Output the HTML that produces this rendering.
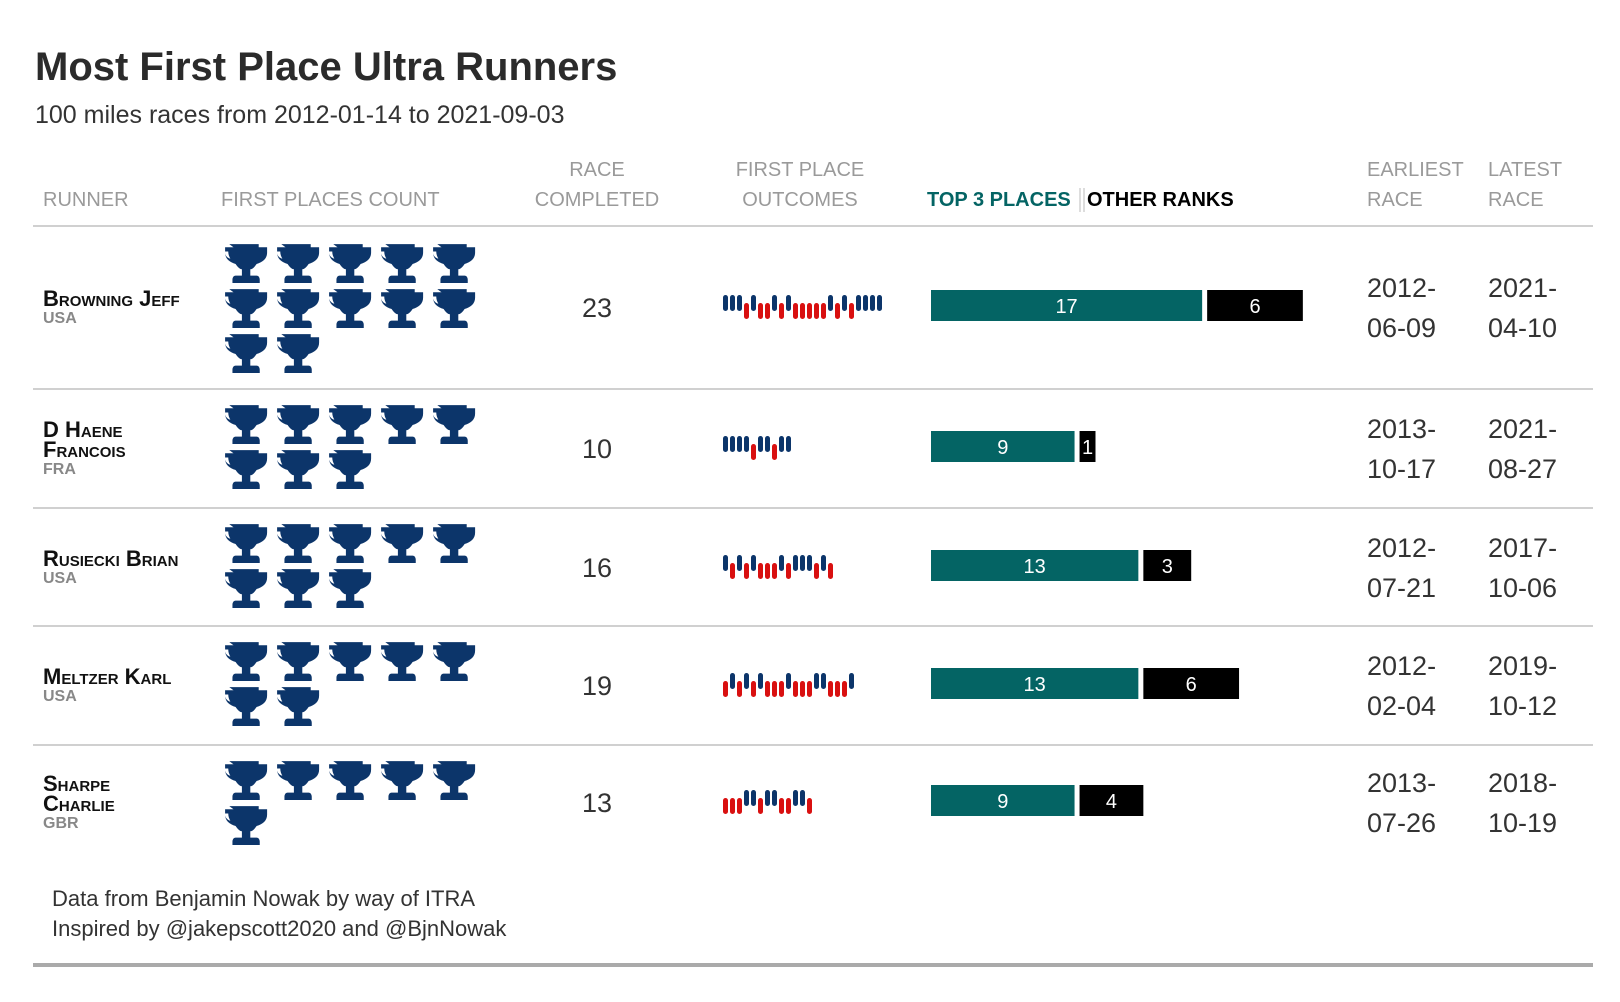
<!DOCTYPE html>
<html><head><meta charset="utf-8">
<style>
body{margin:0;background:#fff;width:1620px;height:1002px;overflow:hidden;font-family:"Liberation Sans",sans-serif;}
svg{display:block}
</style></head>
<body>
<svg id="chart" width="1620" height="1002">
<text x="35" y="80" font-size="40" font-weight="bold" fill="#2b2b2b">Most First Place Ultra Runners</text>
<text x="35" y="123" font-size="25" fill="#333">100 miles races from 2012-01-14 to 2021-09-03</text>
<g font-size="20" fill="#9a9a9a">
<text x="43" y="206">RUNNER</text>
<text x="221" y="206">FIRST PLACES COUNT</text>
<text x="597" y="176" text-anchor="middle">RACE</text>
<text x="597" y="206" text-anchor="middle">COMPLETED</text>
<text x="800" y="176" text-anchor="middle">FIRST PLACE</text>
<text x="800" y="206" text-anchor="middle">OUTCOMES</text>
<text x="927" y="206" font-weight="bold" fill="#046464">TOP 3 PLACES</text>
<line x1="1080" y1="188" x2="1080" y2="212" stroke="#bbb" stroke-width="1"/>
<line x1="1084" y1="188" x2="1084" y2="212" stroke="#bbb" stroke-width="1"/>
<text x="1087" y="206" font-weight="bold" fill="#000">OTHER RANKS</text>
<text x="1367" y="176">EARLIEST</text>
<text x="1367" y="206">RACE</text>
<text x="1488" y="176">LATEST</text>
<text x="1488" y="206">RACE</text>
</g>
<line x1="33" y1="226" x2="1593" y2="226" stroke="#d0d0d0" stroke-width="2"/>
<line x1="33" y1="965" x2="1593" y2="965" stroke="#aaa" stroke-width="4"/>
<text x="52" y="906" font-size="22" fill="#333">Data from Benjamin Nowak by way of ITRA</text>
<text x="52" y="936" font-size="22" fill="#333">Inspired by @jakepscott2020 and @BjnNowak</text>
<g id="rows"></g>
</svg>
<script>
const names=[["Browning Jeff"],["D Haene","Francois"],["Rusiecki Brian"],["Meltzer Karl"],["Sharpe","Charlie"]];
const countries=["USA","FRA","USA","USA","GBR"];
const wins=[12,8,8,7,6];
const races=[23,10,16,19,13];
const top3=[17,9,13,13,9];
const others=[6,1,3,6,4];
const earliest=["2012-06-09","2013-10-17","2012-07-21","2012-02-04","2013-07-26"];
const latest=["2021-04-10","2021-08-27","2017-10-06","2019-10-12","2018-10-19"];
const outcomes=[
"11101001010000010101111",
"1111011011",
"1010100010111010",
"0101010001000110001",
"0001101100110"];
const rowBot=[389,508,626,745,850];
const NS="http://www.w3.org/2000/svg";
const g=document.getElementById('rows');
const unit=15.95, barX=931;
function el(t,a,p){const e=document.createElementNS(NS,t);for(const k in a)e.setAttribute(k,a[k]);(p||g).appendChild(e);return e;}
function txt(x,y,s,a,p){const e=el('text',Object.assign({x:x,y:y},a),p);e.textContent=s;return e;}
const trophy="M-14,-18 h28 v3 h8 v5 c0,6 -4,9 -10,11 c-2,3 -4,5 -6,5 v6 h6 c2,0 3,2 3,4 v3 h-26 v-3 c0,-2 1,-4 3,-4 h6 v-6 c-2,0 -4,-2 -6,-5 c-6,-2 -10,-5 -10,-11 v-5 h8z M-18,-11 v1 c0,3 2,5 5,6 c-1,-2 -2,-4 -2,-7z M18,-11 v1 c0,3 -2,5 -5,6 c1,-2 2,-4 2,-7z";
for(let i=0;i<names.length;i++){
  const cy=[306,447,566,684,801][i];
  const rg=el('g',{});
  
  
  if(i<4){el('line',{x1:33,x2:1593,y1:rowBot[i],y2:rowBot[i],stroke:'#d0d0d0','stroke-width':2},rg);}
  const nl=names[i];
  const ny=nl.length==1?cy:cy-10;
  nl.forEach((s,k)=>{const t=txt(43,ny+k*20,s,{'font-size':22,'font-weight':'bold','font-variant':'small-caps',fill:'#111'},rg);
    
    });
  const c=txt(43,ny+(nl.length-1)*20+17,countries[i],{'font-size':16,'font-weight':'bold',fill:'#888'},rg);
  
  
  const ty0=[263,424,543,661,780][i];
  for(let k=0;k<wins[i];k++){
    const p=el('path',{d:trophy,fill:'#0c356a',transform:`translate(${244+(k%5)*52},${ty0+Math.floor(k/5)*45}) scale(1.05)`},rg);
    
    
  }
  const rc=txt(597,cy+11,races[i],{'font-size':27,'text-anchor':'middle',fill:'#333'},rg);
  
  
  const seq=outcomes[i];
  for(let k=0;k<seq.length;k++){
    const w=seq[k]==='1';
    const r=el('rect',{x:723+k*7,y:w?cy-11:cy-3,width:5,height:16,rx:2.5,fill:w?'#0c356a':'#d91010'},rg);
    
    
  }
  const w1=top3[i]*unit, w2=others[i]*unit;
  const b1=el('rect',{x:barX,y:cy-16,width:w1,height:31,fill:'#046464'},rg);
  
  
  const b2=el('rect',{x:barX+w1+5,y:cy-16,width:w2,height:31,fill:'#000'},rg);
  
  
  txt(barX+w1/2,cy+7,top3[i],{'font-size':20,'text-anchor':'middle',fill:'#fff'},rg);
  txt(barX+w1+5+w2/2,cy+7,others[i],{'font-size':20,'text-anchor':'middle',fill:'#fff'},rg);
  [[1367,earliest[i]],[1488,latest[i]]].forEach(([x,d],k)=>{
    const t1=txt(x,cy-9,d.slice(0,5),{'font-size':27,fill:'#333'},rg);
    
    
    txt(x,cy+31,d.slice(5),{'font-size':27,fill:'#333'},rg);
  });
}
</script>
</body></html>
